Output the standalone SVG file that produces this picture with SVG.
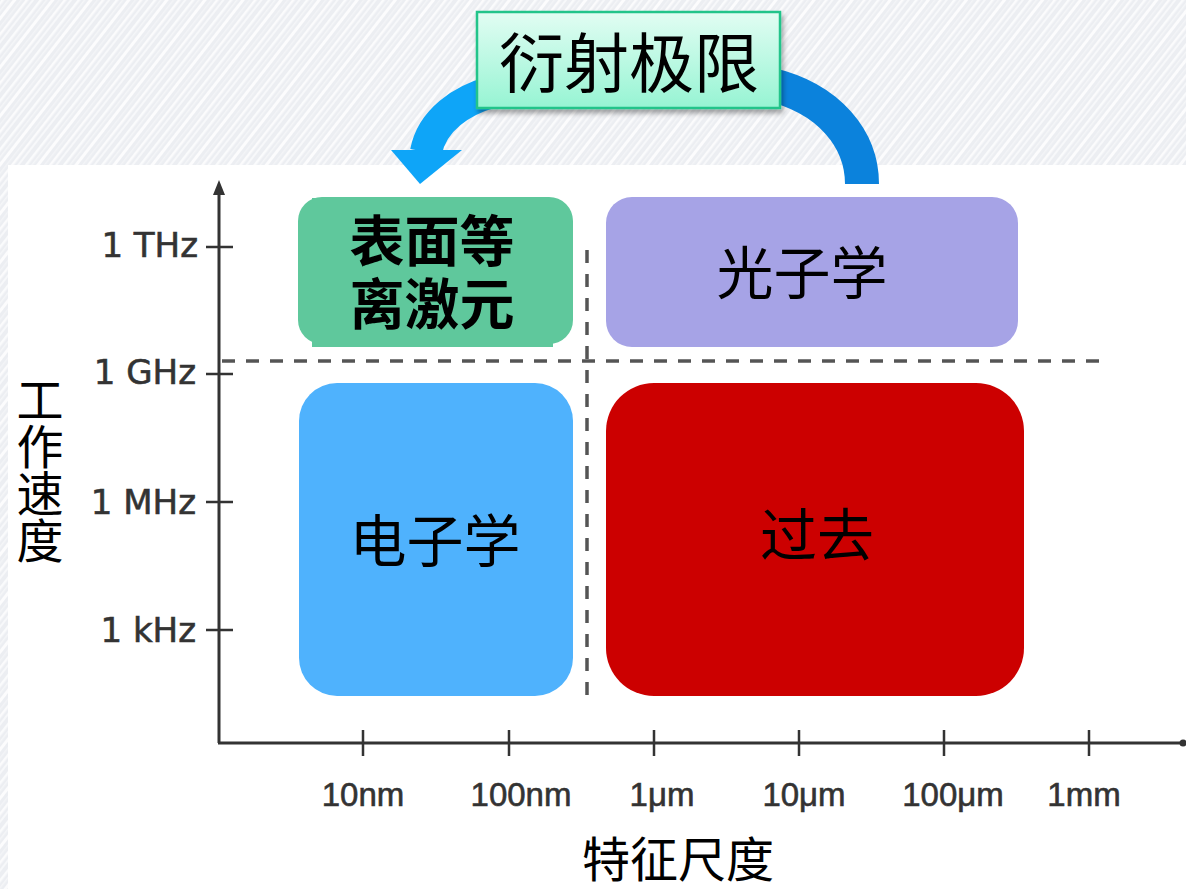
<svg xmlns="http://www.w3.org/2000/svg" width="1186" height="889" viewBox="0 0 1186 889">
  <defs>
    <pattern id="marble" width="30" height="30" patternUnits="userSpaceOnUse" patternTransform="rotate(-52)">
      <rect width="30" height="30" fill="#eceef2"/>
      <rect y="1" width="30" height="2.5" fill="#fafbfc"/>
      <rect y="6" width="30" height="1.5" fill="#f5f6f8"/>
      <rect y="10" width="30" height="3" fill="#fcfcfd"/>
      <rect y="16" width="30" height="1.5" fill="#f3f4f7"/>
      <rect y="20" width="30" height="2.5" fill="#fbfbfc"/>
      <rect y="25" width="30" height="2" fill="#f7f8fa"/>
    </pattern>
    <linearGradient id="labelGrad" x1="0" y1="0" x2="0" y2="1">
      <stop offset="0" stop-color="#e2fdf3"/>
      <stop offset="1" stop-color="#96f4d3"/>
    </linearGradient>
    <filter id="shadow" x="-10%" y="-10%" width="125%" height="140%">
      <feDropShadow dx="2" dy="4" stdDeviation="2.5" flood-color="#000" flood-opacity="0.35"/>
    </filter>
    <style>
      .axis { stroke: #333; stroke-width: 3; fill: none; }
      .tick { stroke: #333; stroke-width: 2.5; fill: none; }
      .dash { stroke: #555; stroke-width: 3.5; stroke-dasharray: 13 11; fill: none; }
      .ylab { font-family: "DejaVu Sans", sans-serif; font-size: 34px; fill: #333; stroke: #333; stroke-width: 0.6; text-anchor: end; }
      .xlab { font-family: "Liberation Sans", sans-serif; font-size: 33px; fill: #333; stroke: #333; stroke-width: 0.6; text-anchor: middle; }
      .cjk { font-family: "Noto Sans CJK SC", sans-serif; fill: #000; text-anchor: middle; }
      .shaft { fill: none; stroke-width: 32; stroke-linecap: butt; }
    </style>
  </defs>

  <g id="background">
    <rect x="0" y="0" width="1186" height="889" fill="url(#marble)"/>
    <rect x="8" y="165" width="1178" height="724" fill="#ffffff"/>
  </g>

  <g id="connectors">
    <path class="shaft" stroke="#0ea5f8" d="M 492 92 C 462 100 432 120 426 152"/>
    <polygon points="391,150 462,150 420,184" fill="#0ea5f8"/>
    <path class="shaft" stroke="#0b82dc" d="M 768 84 C 830 98 862 140 862 184" style="stroke-width:34"/>
  </g>

  <g id="axes">
    <path class="dash" d="M 222 361 H 1105"/>
    <path class="dash" d="M 587 250 V 706"/>
    <line class="axis" x1="219" y1="192" x2="219" y2="743"/>
    <polygon points="219,180 213,195 225,195" fill="#333"/>
    <line class="axis" x1="218" y1="743" x2="1182" y2="743"/>
    <circle cx="1183" cy="743" r="3.5" fill="#333"/>
    <path class="tick" d="M 206 247 H 233 M 206 374 H 233 M 206 502 H 233 M 206 630 H 233"/>
    <path class="tick" d="M 363 730 V 756 M 509 730 V 756 M 654 730 V 756 M 799 730 V 756 M 944 730 V 756 M 1089 730 V 756"/>
    <text class="ylab" x="198" y="257">1 THz</text>
    <text class="ylab" x="196" y="384">1 GHz</text>
    <text class="ylab" x="196" y="514">1 MHz</text>
    <text class="ylab" x="196" y="642">1 kHz</text>
    <text class="xlab" x="363" y="806">10nm</text>
    <text class="xlab" x="521" y="806">100nm</text>
    <text class="xlab" x="662" y="806">1μm</text>
    <text class="xlab" x="804" y="806">10μm</text>
    <text class="xlab" x="953" y="806">100μm</text>
    <text class="xlab" x="1084" y="806">1mm</text>
    <text id="y-title" x="40" y="376" font-family="Noto Sans CJK SC, sans-serif" font-size="47" fill="#000" style="writing-mode: vertical-rl; text-orientation: upright;">工作速度</text>
    <text id="x-title" class="cjk" x="678" y="877" font-size="48">特征尺度</text>
  </g>

  <g id="node-diffraction">
    <rect x="477" y="12" width="303" height="96" fill="url(#labelGrad)" stroke="#22c48a" stroke-width="2.5" filter="url(#shadow)"/>
    <text class="cjk" x="629" y="87" font-size="65">衍射极限</text>
  </g>

  <g id="node-plasmonics">
    <rect x="298" y="197" width="275" height="147" rx="24" fill="#5fc89c"/>
    <rect x="312" y="198" width="241" height="149" fill="#5fc89c"/>
    <text class="cjk" font-size="55" font-weight="700"><tspan x="432" y="261">表面等</tspan><tspan x="432" y="324">离激元</tspan></text>
  </g>

  <g id="node-photonics">
    <rect x="606" y="197" width="412" height="150" rx="26" fill="#a6a3e6"/>
    <text class="cjk" x="802" y="294" font-size="57">光子学</text>
  </g>

  <g id="node-electronics">
    <rect x="299" y="383" width="274" height="313" rx="38" fill="#4fb2fd"/>
    <text class="cjk" x="435" y="562" font-size="57">电子学</text>
  </g>

  <g id="node-past">
    <rect x="606" y="383" width="418" height="313" rx="48" fill="#cc0000"/>
    <text class="cjk" x="817" y="556" font-size="57">过去</text>
  </g>
</svg>
